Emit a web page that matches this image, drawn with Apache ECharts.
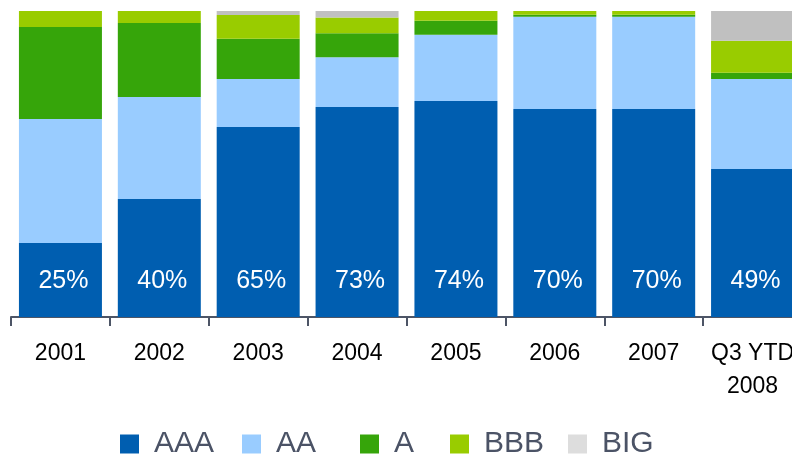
<!DOCTYPE html>
<html>
<head>
    <meta charset="utf-8">
    <title>Rating mix</title>
    <script src="https://cdn.jsdelivr.net/npm/echarts@6/dist/echarts.min.js"></script>
</head>
<body style="margin: 0;">
    <div id="main" style="width: 792px; height: 458px;"></div>
    <script>
        var categories = ['2001', '2002', '2003', '2004', '2005', '2006', '2007', 'Q3 YTD\n2008'];
        // share of each rating in the bar, percent
        var aaa = [24.2, 38.6, 62.1, 68.6, 70.6, 68.0, 68.0, 48.4];
        var aa = [40.5, 33.3, 15.7, 16.3, 21.6, 30.1, 30.1, 29.4];
        var a = [30.1, 24.2, 13.1, 7.8, 4.6, 0.7, 0.7, 2.0];
        var bbb = [5.2, 3.9, 7.8, 5.2, 3.2, 1.2, 1.2, 10.5];
        var big = [0, 0, 1.3, 2.1, 0, 0, 0, 9.7];
        var aaaLabels = ['25%', '40%', '65%', '73%', '74%', '70%', '70%', '49%'];

        var FONT = '"Liberation Sans", Arial, sans-serif';
        var names = ['AAA', 'AA', 'A', 'BBB', 'BIG'];
        var colors = ['#005EB0', '#99CCFF', '#36A50A', '#99CC00', '#C0C0C0'];
        var legendColors = ['#005EB0', '#99CCFF', '#36A50A', '#99CC00', '#DDDDDD'];
        var legendLeft = [120, 242, 360, 450, 568];

        var chart = echarts.init(document.getElementById('main'));

        function makeSeries(name, values, idx) {
            var s = {
                name: name,
                type: 'bar',
                stack: 'total',
                barWidth: 83,
                data: values,
                itemStyle: { color: colors[idx] }
            };
            if (idx === 0) {
                s.label = {
                    show: true,
                    position: 'insideBottom',
                    distance: 23,
                    offset: [3, 0],
                    color: '#fff',
                    fontSize: 25,
                    fontFamily: FONT,
                    formatter: function (p) {
                        return aaaLabels[p.dataIndex];
                    }
                };
            }
            return s;
        }

        var option = {
            animation: false,
            grid: {
                left: 11,
                top: 11,
                width: 791,
                bottom: 141,
                containLabel: false,
                outerBoundsMode: 'none'
            },
            legend: names.map(function (n, i) {
                return {
                    left: legendLeft[i],
                    top: 429,
                    padding: 0,
                    itemWidth: 19,
                    itemHeight: 19,
                    icon: 'rect',
                    textStyle: {
                        fontSize: 30,
                        color: '#4B5366',
                        fontFamily: FONT,
                        padding: [0, 0, 0, 10]
                    },
                    data: [{ name: n, itemStyle: { color: legendColors[i] } }]
                };
            }),
            xAxis: {
                type: 'category',
                data: categories,
                axisLine: { show: true, lineStyle: { color: '#4D5566', width: 2 } },
                axisTick: {
                    show: true,
                    interval: 0,
                    length: 9,
                    lineStyle: { color: '#4D5566', width: 2 }
                },
                axisLabel: {
                    color: '#000',
                    fontSize: 23,
                    fontFamily: FONT,
                    lineHeight: 33,
                    margin: 20,
                    interval: 0
                }
            },
            yAxis: {
                type: 'value',
                min: 0,
                max: 100,
                show: false
            },
            series: [
                makeSeries('AAA', aaa, 0),
                makeSeries('AA', aa, 1),
                makeSeries('A', a, 2),
                makeSeries('BBB', bbb, 3),
                makeSeries('BIG', big, 4)
            ]
        };

        chart.setOption(option);
    </script>
</body>
</html>
